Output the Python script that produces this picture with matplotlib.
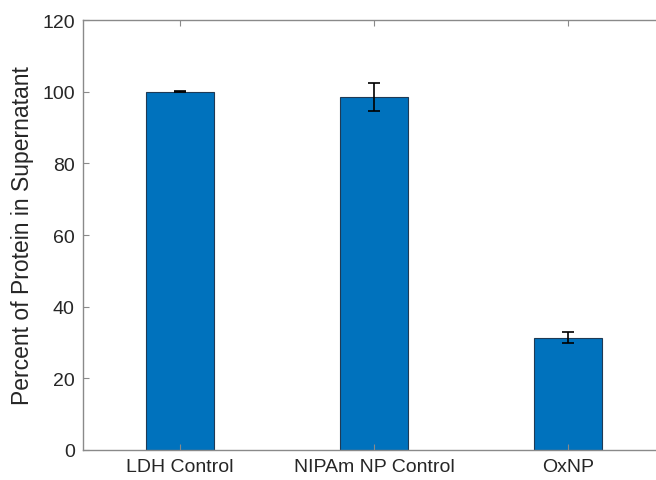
import numpy as np
import matplotlib
matplotlib.use('Agg')
from matplotlib import pyplot as plt

# datos
grupos = ['LDH Control', 'NIPAm NP Control', 'OxNP']
porcentaje = [100.0, 98.5, 31.3]
error = [0.2, 3.8, 1.5]

plt.rcParams['font.family'] = ['Liberation Sans', 'DejaVu Sans']

fig = plt.figure(figsize=(6.56, 4.81), dpi=100)
ax = fig.add_axes([0.1265, 0.0624, 0.8872, 0.8939])

x = np.arange(1, len(grupos) + 1)
ax.bar(x, porcentaje, width=0.35, color='#0072BD', edgecolor='#1f3a55', linewidth=0.8,
       yerr=error, capsize=4, error_kw=dict(ecolor='black', elinewidth=1.2, capthick=1.2))

ax.set_xlim(0.5, 3.5)
ax.set_ylim(0, 120)
ax.set_xticks(x)
ax.set_xticklabels(grupos)
ax.set_yticks(np.arange(0, 121, 20))
ax.set_ylabel('Percent of Protein in Supernatant', fontsize=16.5, color='#262626', labelpad=6)

for s in ax.spines.values():
    s.set_color('#8a8a8a')
    s.set_linewidth(1.0)
ax.tick_params(direction='in', length=4, color='#8a8a8a', labelsize=14,
               labelcolor='#262626', top=True, right=True, pad=6)

fig.savefig('out.png', dpi=100)
